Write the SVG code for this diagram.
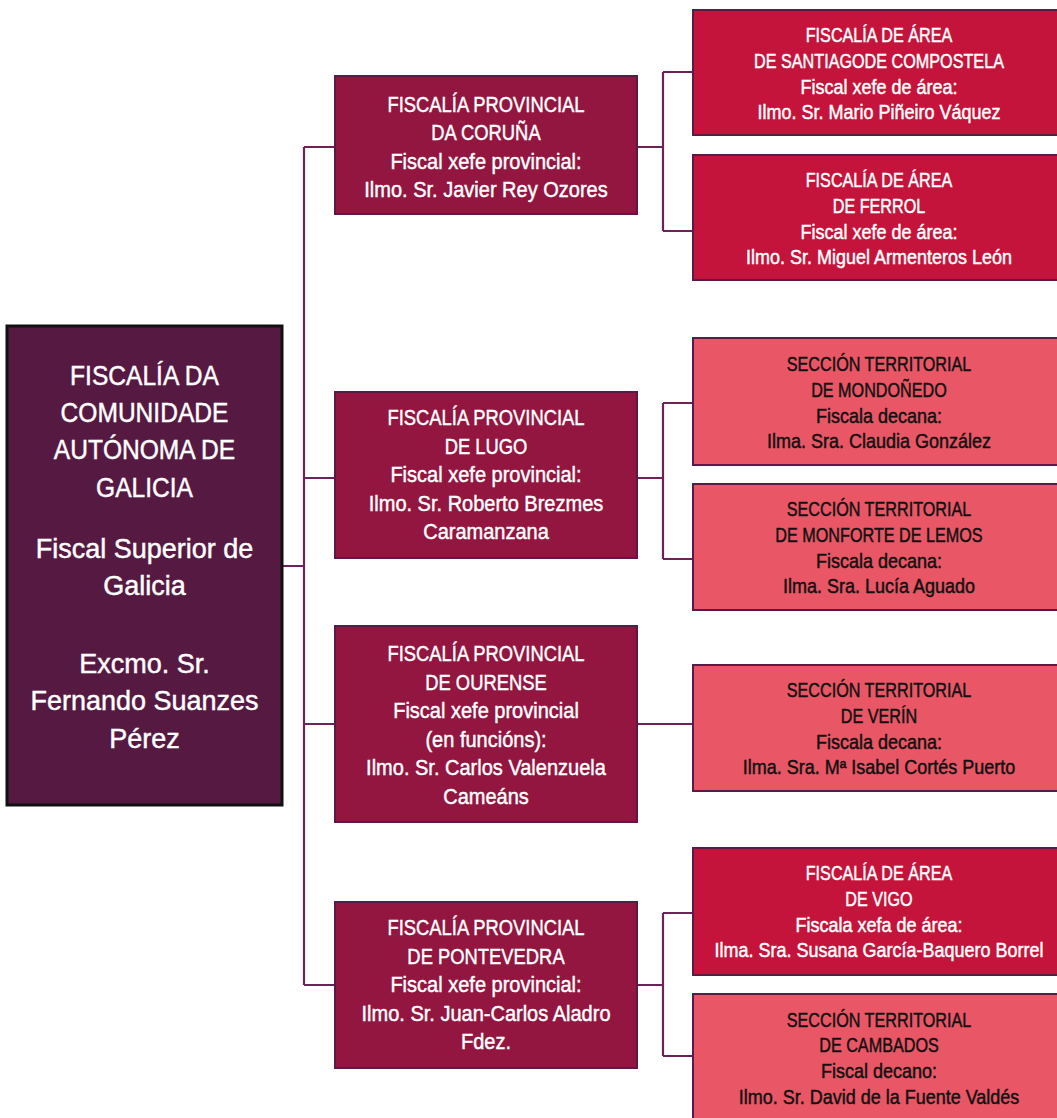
<svg xmlns="http://www.w3.org/2000/svg" width="1057" height="1118" viewBox="0 0 1057 1118">
<style>
text{font-family:"Liberation Sans",Arial,sans-serif;text-anchor:middle;stroke-width:0.45}
.main{fill:#561A42;stroke:#111;stroke-width:3}
.prov{fill:#921640;stroke:#5A1A48;stroke-width:2}
.area{fill:#C5143B;stroke:#5A1A48;stroke-width:2}
.sec{fill:#E95766;stroke:#5A1A48;stroke-width:2}
.tm{font-size:27px;fill:#fff;stroke:#fff}
.tp{font-size:22px;fill:#fff;stroke:#fff}
.tw{font-size:19.5px;fill:#fff;stroke:#fff}
.tb{font-size:19.5px;fill:#111;stroke:#111}
.conn{fill:none;stroke:#6E2358;stroke-width:2.2}
</style>
<rect width="1057" height="1118" fill="#fff"/>
<g id="connectors" class="conn">
<path d="M282 566H304M304 147V985M304 147H335M304 478H335M304 724H335M304 985H335"/>
<path d="M637 147H663M663 72V231M663 72H693M663 231H693"/>
<path d="M637 478H663M663 403V559M663 403H693M663 559H693"/>
<path d="M637 724H693"/>
<path d="M637 985H663M663 913V1056M663 913H693M663 1056H693"/>
</g>
<g id="fiscalia-galicia">
<rect class="main" x="7" y="326" width="275" height="479"/>
<text class="tm" transform="translate(144.5 385) scale(0.91 1)">FISCALÍA DA</text>
<text class="tm" transform="translate(144.5 422) scale(0.91 1)">COMUNIDADE</text>
<text class="tm" transform="translate(144.5 459) scale(0.91 1)">AUTÓNOMA DE</text>
<text class="tm" transform="translate(144.5 497) scale(0.91 1)">GALICIA</text>
<text class="tm" x="144.5" y="558">Fiscal Superior de</text>
<text class="tm" x="144.5" y="595">Galicia</text>
<text class="tm" x="144.5" y="673">Excmo. Sr.</text>
<text class="tm" x="144.5" y="710">Fernando Suanzes</text>
<text class="tm" x="144.5" y="748">Pérez</text>
</g>
<g id="prov-coruna">
<rect class="prov" x="335" y="76" width="302" height="138"/>
<text class="tp" transform="translate(486 112) scale(0.836 1)">FISCALÍA PROVINCIAL</text>
<text class="tp" transform="translate(486 140) scale(0.836 1)">DA CORUÑA</text>
<text class="tp" transform="translate(486 168.5) scale(0.91 1)">Fiscal xefe provincial:</text>
<text class="tp" transform="translate(486 197) scale(0.91 1)">Ilmo. Sr. Javier Rey Ozores</text>
</g>
<g id="prov-lugo">
<rect class="prov" x="335" y="392" width="302" height="166"/>
<text class="tp" transform="translate(486 425) scale(0.836 1)">FISCALÍA PROVINCIAL</text>
<text class="tp" transform="translate(486 453.5) scale(0.836 1)">DE LUGO</text>
<text class="tp" transform="translate(486 482) scale(0.91 1)">Fiscal xefe provincial:</text>
<text class="tp" transform="translate(486 510.5) scale(0.91 1)">Ilmo. Sr. Roberto Brezmes</text>
<text class="tp" transform="translate(486 539) scale(0.91 1)">Caramanzana</text>
</g>
<g id="prov-ourense">
<rect class="prov" x="335" y="626" width="302" height="196"/>
<text class="tp" transform="translate(486 661) scale(0.836 1)">FISCALÍA PROVINCIAL</text>
<text class="tp" transform="translate(486 689.5) scale(0.836 1)">DE OURENSE</text>
<text class="tp" transform="translate(486 718) scale(0.91 1)">Fiscal xefe provincial</text>
<text class="tp" transform="translate(486 746.5) scale(0.91 1)">(en funcións):</text>
<text class="tp" transform="translate(486 775) scale(0.91 1)">Ilmo. Sr. Carlos Valenzuela</text>
<text class="tp" transform="translate(486 803.5) scale(0.91 1)">Cameáns</text>
</g>
<g id="prov-pontevedra">
<rect class="prov" x="335" y="902" width="302" height="166"/>
<text class="tp" transform="translate(486 935) scale(0.836 1)">FISCALÍA PROVINCIAL</text>
<text class="tp" transform="translate(486 963.5) scale(0.836 1)">DE PONTEVEDRA</text>
<text class="tp" transform="translate(486 992) scale(0.91 1)">Fiscal xefe provincial:</text>
<text class="tp" transform="translate(486 1020.5) scale(0.91 1)">Ilmo. Sr. Juan-Carlos Aladro</text>
<text class="tp" transform="translate(486 1049) scale(0.91 1)">Fdez.</text>
</g>
<g id="area-santiago">
<rect class="area" x="693" y="10" width="372" height="125"/>
<text class="tw" transform="translate(879 42) scale(0.83 1)">FISCALÍA DE ÁREA</text>
<text class="tw" transform="translate(879 68) scale(0.83 1)">DE SANTIAGODE COMPOSTELA</text>
<text class="tw" transform="translate(879 93.5) scale(0.923 1)">Fiscal xefe de área:</text>
<text class="tw" transform="translate(879 119) scale(0.923 1)">Ilmo. Sr. Mario Piñeiro Váquez</text>
</g>
<g id="area-ferrol">
<rect class="area" x="693" y="155" width="372" height="125"/>
<text class="tw" transform="translate(879 187) scale(0.83 1)">FISCALÍA DE ÁREA</text>
<text class="tw" transform="translate(879 213) scale(0.83 1)">DE FERROL</text>
<text class="tw" transform="translate(879 238.5) scale(0.923 1)">Fiscal xefe de área:</text>
<text class="tw" transform="translate(879 264) scale(0.923 1)">Ilmo. Sr. Miguel Armenteros León</text>
</g>
<g id="sec-mondonedo">
<rect class="sec" x="693" y="338" width="372" height="127"/>
<text class="tb" transform="translate(879 371) scale(0.83 1)">SECCIÓN TERRITORIAL</text>
<text class="tb" transform="translate(879 397) scale(0.83 1)">DE MONDOÑEDO</text>
<text class="tb" transform="translate(879 422.5) scale(0.923 1)">Fiscala decana:</text>
<text class="tb" transform="translate(879 448) scale(0.923 1)">Ilma. Sra. Claudia González</text>
</g>
<g id="sec-monforte">
<rect class="sec" x="693" y="484" width="372" height="126"/>
<text class="tb" transform="translate(879 516) scale(0.83 1)">SECCIÓN TERRITORIAL</text>
<text class="tb" transform="translate(879 542) scale(0.83 1)">DE MONFORTE DE LEMOS</text>
<text class="tb" transform="translate(879 567.5) scale(0.923 1)">Fiscala decana:</text>
<text class="tb" transform="translate(879 593) scale(0.923 1)">Ilma. Sra. Lucía Aguado</text>
</g>
<g id="sec-verin">
<rect class="sec" x="693" y="665" width="372" height="126"/>
<text class="tb" transform="translate(879 697) scale(0.83 1)">SECCIÓN TERRITORIAL</text>
<text class="tb" transform="translate(879 723) scale(0.83 1)">DE VERÍN</text>
<text class="tb" transform="translate(879 748.5) scale(0.923 1)">Fiscala decana:</text>
<text class="tb" transform="translate(879 774) scale(0.923 1)">Ilma. Sra. Mª Isabel Cortés Puerto</text>
</g>
<g id="area-vigo">
<rect class="area" x="693" y="848" width="372" height="127"/>
<text class="tw" transform="translate(879 880) scale(0.83 1)">FISCALÍA DE ÁREA</text>
<text class="tw" transform="translate(879 906) scale(0.83 1)">DE VIGO</text>
<text class="tw" transform="translate(879 931.5) scale(0.923 1)">Fiscala xefa de área:</text>
<text class="tw" transform="translate(879 957) scale(0.923 1)">Ilma. Sra. Susana García-Baquero Borrel</text>
</g>
<g id="sec-cambados">
<rect class="sec" x="693" y="994" width="372" height="140"/>
<text class="tb" transform="translate(879 1027) scale(0.83 1)">SECCIÓN TERRITORIAL</text>
<text class="tb" transform="translate(879 1052) scale(0.83 1)">DE CAMBADOS</text>
<text class="tb" transform="translate(879 1078) scale(0.923 1)">Fiscal decano:</text>
<text class="tb" transform="translate(879 1104) scale(0.923 1)">Ilmo. Sr. David de la Fuente Valdés</text>
</g>
</svg>
